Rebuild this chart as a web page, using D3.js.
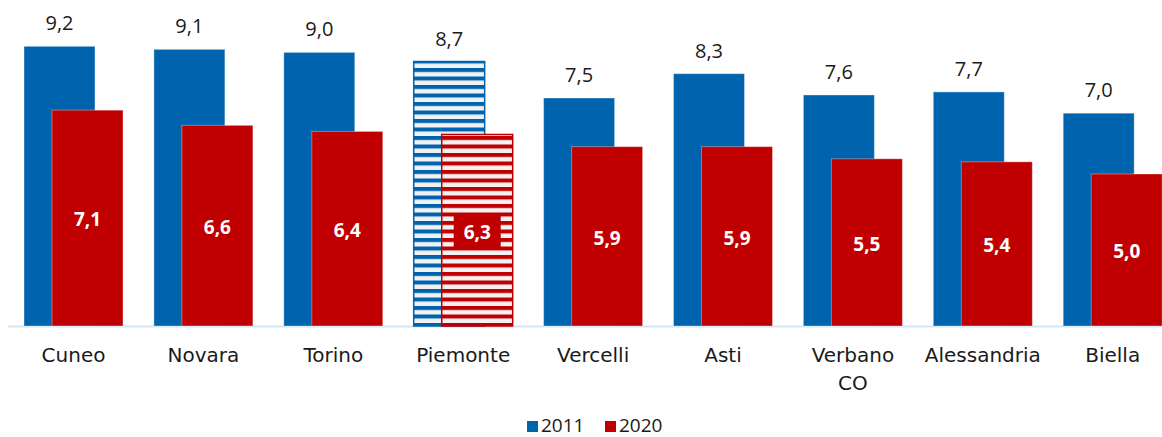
<!DOCTYPE html>
<html><head><meta charset="utf-8">
<script src="https://cdn.jsdelivr.net/npm/d3@7"></script>
<style>
html,body{margin:0;padding:0;background:#fff;}
svg{display:block;}
text{font-family:"DejaVu Sans",sans-serif;}
</style></head>
<body>
<svg id="chart" width="1162" height="437"></svg>
<script>
const categories = ["Cuneo","Novara","Torino","Piemonte","Vercelli","Asti","Verbano CO","Alessandria","Biella"];
const values2011 = [9.2, 9.1, 9.0, 8.7, 7.5, 8.3, 7.6, 7.7, 7.0];
const values2020 = [7.1, 6.6, 6.4, 6.3, 5.9, 5.9, 5.5, 5.4, 5.0];
const seriesNames = ["2011","2020"];
const highlight = "Piemonte";

const blue = "#0063ad", red = "#c00000", stripeBg = "#f2f2f2";
const svg = d3.select("#chart");
const fmt = v => d3.format(".1f")(v).replace(".", ",");

const y = d3.scaleLinear().domain([0, 10]).range([326, 22]);
const x = d3.scaleBand().domain(categories).range([8.55, 1177.65]).paddingInner(0.238).paddingOuter(0.119);
const bw = x.bandwidth();
const barW = bw * 0.717;
const off = bw - barW;

const defs = svg.append("defs");
[["pBlue", blue], ["pRed", red]].forEach(([id, c]) => {
  const p = defs.append("pattern").attr("id", id).attr("patternUnits", "userSpaceOnUse")
    .attr("width", 8).attr("height", 8.5);
  p.append("rect").attr("width", 8).attr("height", 8.5).attr("fill", stripeBg);
  p.append("rect").attr("width", 8).attr("height", 4).attr("fill", c);
});

// axis line
svg.append("line").attr("x1", 8).attr("x2", 1162).attr("y1", y(0) + 0.5).attr("y2", y(0) + 0.5)
  .attr("stroke", "#d3e5f5").attr("stroke-width", 2);

const g = svg.append("g");
categories.forEach((c, i) => {
  const hl = c === highlight;
  const x0 = x(c);
  // 2011
  g.append("rect").attr("x", x0).attr("y", y(values2011[i])).attr("width", barW)
    .attr("height", y(0) - y(values2011[i]))
    .attr("fill", hl ? "url(#pBlue)" : blue)
    .attr("stroke", hl ? blue : "rgba(255,255,255,0.35)").attr("stroke-width", hl ? 1.5 : 1);
  // 2020
  g.append("rect").attr("x", x0 + off).attr("y", y(values2020[i])).attr("width", barW)
    .attr("height", y(0) - y(values2020[i]))
    .attr("fill", hl ? "url(#pRed)" : red)
    .attr("stroke", hl ? red : "rgba(255,255,255,0.35)").attr("stroke-width", hl ? 1.5 : 1);
  // labels 2011
  g.append("text").attr("x", x0 + barW / 2).attr("y", y(values2011[i]) - 16)
    .attr("text-anchor", "middle").attr("font-size", 20).attr("fill", "#1a1a1a")
    .style("font-family", "'Open Sans',sans-serif")
    .text(fmt(values2011[i]));
  // labels 2020
  const cy = (y(values2020[i]) + y(0)) / 2 + 1.5;
  if (hl) {
    g.append("rect").attr("x", x0 + off + barW / 2 - 23.5).attr("y", cy - 17).attr("width", 47).attr("height", 34)
      .attr("fill", red);
  }
  g.append("text").attr("x", x0 + off + barW / 2).attr("y", cy).attr("dy", "0.36em")
    .attr("text-anchor", "middle").attr("font-size", 19).attr("font-weight", "bold").attr("fill", "#fff")
    .style("font-family", "'Open Sans',sans-serif")
    .text(fmt(values2020[i]));
  // category label
  const words = c === "Verbano CO" ? ["Verbano", "CO"] : [c];
  words.forEach((w, k) => {
    g.append("text").attr("x", x0 + bw / 2).attr("y", 362 + k * 28)
      .attr("text-anchor", "middle").attr("font-size", 20).attr("fill", "#1a1a1a").text(w);
  });
});

// legend
const leg = svg.append("g");
const legX = [527, 605];
seriesNames.forEach((s, i) => {
  leg.append("rect").attr("x", legX[i]).attr("y", 421).attr("width", 11).attr("height", 11)
    .attr("fill", i === 0 ? blue : red);
  leg.append("text").attr("x", legX[i] + 14).attr("y", 432).attr("font-size", 19).attr("fill", "#1a1a1a")
    .style("font-family", "'Open Sans',sans-serif").text(s);
});
</script>
</body></html>
